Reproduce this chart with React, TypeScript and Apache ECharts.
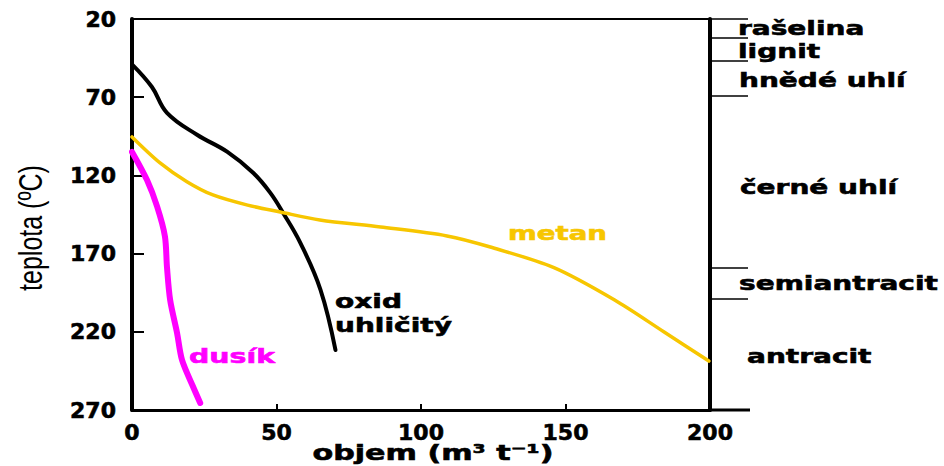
import React, { useEffect, useRef } from "react";
import * as echarts from "echarts";

// x: objem (m3 t-1), y: teplota (°C)
const xTicks = [0, 50, 100, 150, 200];
const yTicks = [20, 70, 120, 170, 220, 270];

const co2: [number, number][] = [
  [0, 49], [6.9, 63.5], [12.1, 80], [22.5, 94], [33, 105], [42, 118.5],
  [47.8, 131], [52.3, 144], [58.2, 163], [65.2, 193], [70.4, 231.6],
];
const metan: [number, number][] = [
  [0, 95.4], [9.7, 112], [19, 124], [28, 132.5], [40, 139], [51.3, 143.4],
  [65, 148.5], [86, 153], [109, 158.7], [124, 165.8], [146, 179],
  [167, 199.7], [184, 220], [199.6, 238.7],
];
const dusik: [number, number][] = [
  [0, 105], [5.2, 123], [8.7, 140], [11.4, 159], [12.1, 178.6],
  [13.2, 199.7], [15.6, 220.8], [17.3, 238], [21.1, 255], [23.6, 265.5],
];

// coal rank boundaries (temperature) on the right axis
const rankBounds = [20, 32, 47, 69, 179, 199];
const rankNames = ["rašelina", "lignit", "hnědé uhlí", "černé uhlí", "semiantracit", "antracit"];

const BOLD = 'bold 20px "DejaVu Sans"';

export default function App() {
  const ref = useRef<HTMLDivElement>(null);
  useEffect(() => {
    if (!ref.current) return;
    const chart = echarts.init(ref.current, null, { renderer: "svg" });
    const rankPos = [
      [738, 28], [738, 51], [739, 80], [740, 187], [739, 283], [747, 356],
    ];
    const label = (text: string, x: number, y: number, color: string, sx: number) => ({
      type: "text", x, y, scaleX: sx,
      style: {
        text, font: BOLD, fill: color, stroke: color, lineWidth: 0.6,
        align: "left", verticalAlign: "middle",
      },
    });
    chart.setOption({
      animation: false,
      backgroundColor: "#fff",
      grid: {
        left: 132, right: 234, top: 19, bottom: 56,
        show: true, borderColor: "#000", borderWidth: 2, backgroundColor: "transparent",
      },
      xAxis: {
        type: "value", min: 0, max: 200, interval: 50,
        axisLine: { show: true, onZero: false, lineStyle: { color: "#000", width: 3 } },
        axisTick: { show: true, inside: true, length: 6, lineStyle: { color: "#000", width: 2 } },
        axisLabel: {
          customValues: xTicks, color: "#000", fontFamily: "DejaVu Sans", fontWeight: "bold",
          fontSize: 22, margin: 11, textBorderColor: "#000", textBorderWidth: 0.6,
        },
        splitLine: { show: false },
      },
      yAxis: [
        {
          type: "value", min: 20, max: 270, inverse: true,
          axisLine: { show: true, onZero: false, lineStyle: { color: "#000", width: 4 } },
          axisTick: { show: true, customValues: yTicks, inside: true, length: 12, lineStyle: { color: "#000", width: 2 } },
          axisLabel: {
            customValues: yTicks, color: "#000", fontFamily: "DejaVu Sans", fontWeight: "bold",
            fontSize: 22, margin: 16, textBorderColor: "#000", textBorderWidth: 0.6,
          },
          splitLine: { show: false },
        },
        {
          type: "value", min: 20, max: 270, inverse: true, position: "right",
          axisLine: { show: true, onZero: false, lineStyle: { color: "#000", width: 4 } },
          axisTick: { show: true, customValues: rankBounds, inside: false, length: 38, lineStyle: { color: "#000", width: 1.5 } },
          axisLabel: { show: false },
          splitLine: { show: false },
        },
      ],
      series: [
        {
          type: "line", data: co2, smooth: 0.4, showSymbol: false, yAxisIndex: 0,
          lineStyle: { color: "#000", width: 4, cap: "round" },
        },
        {
          type: "line", data: metan, smooth: 0.3, showSymbol: false, yAxisIndex: 0,
          lineStyle: { color: "#F7C600", width: 3.5, cap: "round" },
        },
        {
          type: "line", data: dusik, smooth: 0.3, showSymbol: false, yAxisIndex: 0,
          lineStyle: { color: "#FF00FF", width: 6, cap: "round" },
        },
      ],
      graphic: [
        { type: "line", shape: { x1: 708, y1: 410, x2: 750, y2: 410 }, style: { stroke: "#000", lineWidth: 3 } },
        {
          type: "text", x: 30, y: 228, rotation: Math.PI / 2, scaleY: 1.35,
          style: { text: "teplota (ºC)", font: '25px "Liberation Sans"', fill: "#000", align: "center", verticalAlign: "middle" },
        },
        {
          type: "text", x: 433, y: 452, scaleX: 1.37,
          style: {
            text: "objem (m³ t⁻¹)", font: 'bold 22px "DejaVu Sans"', fill: "#000", stroke: "#000", lineWidth: 0.6,
            align: "center", verticalAlign: "middle",
          },
        },
        label("oxid", 335, 301, "#000", 1.4),
        label("uhličitý", 335, 325, "#000", 1.4),
        label("metan", 508, 233, "#F7C600", 1.38),
        label("dusík", 189, 356, "#FF00FF", 1.42),
        ...rankNames.map((name, i) => label(name, rankPos[i][0], rankPos[i][1], "#000", 1.4)),
      ],
    });
    return () => chart.dispose();
  }, []);
  return (
    <div
      ref={ref}
      style={{ position: "absolute", left: 0, top: 0, width: 944, height: 466, background: "#fff" }}
    />
  );
}
